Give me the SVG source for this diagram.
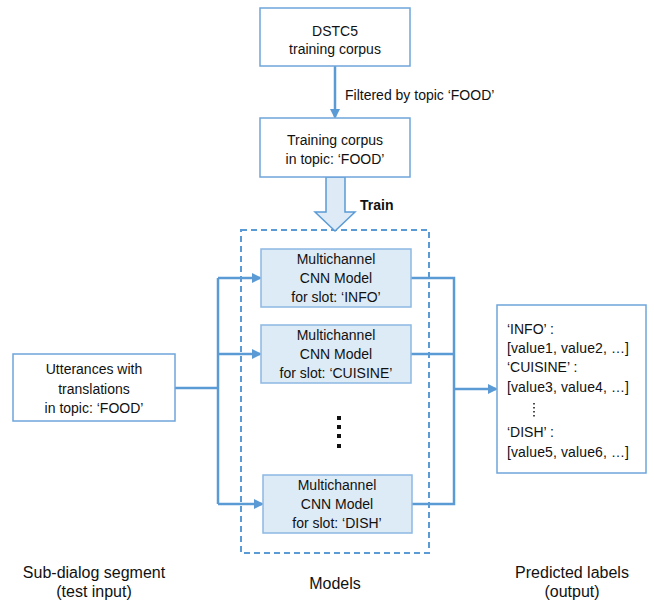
<svg xmlns="http://www.w3.org/2000/svg" width="654" height="604" viewBox="0 0 654 604">
<style>
text{font-family:"Liberation Sans",Arial,sans-serif;font-size:14px;fill:#111;}
.c{text-anchor:middle;}
.lbl{font-size:16px;}
.box{fill:#fff;stroke:#6FA5DA;stroke-width:1.5;}
.cnn{fill:#DDEBF7;stroke:#8CB8E2;stroke-width:1.5;}
.ln{fill:none;stroke:#5B9BD5;stroke-width:2.5;}
</style>
<defs>
<marker id="ah" markerWidth="10" markerHeight="10" refX="8" refY="5" orient="auto" markerUnits="userSpaceOnUse">
<path d="M0,0 L10,5 L0,10 Z" fill="#5B9BD5"/>
</marker>
</defs>
<rect x="241" y="230" width="188" height="323" fill="none" stroke="#5B9BD5" stroke-width="2" stroke-dasharray="6,4"/>
<g id="connectors">
<line class="ln" x1="335" y1="66" x2="335" y2="117" marker-end="url(#ah)"/>
<path d="M326,177 L345,177 L345,212 L355,212 L335,231 L315,212 L326,212 Z" fill="#DEEBF7" stroke="#5B9BD5" stroke-width="1.5"/>
<path class="ln" d="M175,388 L218,388"/>
<path class="ln" d="M218,278 L218,504"/>
<line class="ln" x1="218" y1="278" x2="260" y2="278" marker-end="url(#ah)"/>
<line class="ln" x1="218" y1="354" x2="260" y2="354" marker-end="url(#ah)"/>
<line class="ln" x1="218" y1="504" x2="262" y2="504" marker-end="url(#ah)"/>
<path class="ln" d="M411,278 L454,278 L454,504 L412,504"/>
<path class="ln" d="M411,354 L454,354"/>
<line class="ln" x1="454" y1="389" x2="496" y2="389" marker-end="url(#ah)"/>
<text x="345" y="100">Filtered by topic ‘FOOD’</text>
<text x="360" y="210" style="font-weight:bold">Train</text>
</g>
<g id="dstc5">
<rect class="box" x="260" y="8" width="150" height="58"/>
<text class="c" x="335" y="36">DSTC5</text>
<text class="c" x="335" y="54">training corpus</text>
</g>
<g id="food-corpus">
<rect class="box" x="260" y="118" width="150" height="59"/>
<text class="c" x="335" y="145">Training corpus</text>
<text class="c" x="335" y="164">in topic: ‘FOOD’</text>
</g>
<g id="utterances">
<rect class="box" x="13" y="354" width="162" height="67"/>
<text class="c" x="94" y="374">Utterances with</text>
<text class="c" x="94" y="394">translations</text>
<text class="c" x="94" y="413">in topic: ‘FOOD’</text>
</g>
<g id="cnn-info">
<rect class="cnn" x="261" y="249" width="150" height="58"/>
<text class="c" x="336" y="264">Multichannel</text>
<text class="c" x="336" y="283">CNN Model</text>
<text class="c" x="336" y="302">for slot: ‘INFO’</text>
</g>
<g id="cnn-cuisine">
<rect class="cnn" x="261" y="325" width="150" height="58"/>
<text class="c" x="336" y="340">Multichannel</text>
<text class="c" x="336" y="359">CNN Model</text>
<text class="c" x="336" y="378">for slot: ‘CUISINE’</text>
</g>
<g id="dots">
<rect x="337" y="416" width="4" height="4" fill="#111"/>
<rect x="337" y="425" width="4" height="4" fill="#111"/>
<rect x="337" y="434" width="4" height="4" fill="#111"/>
<rect x="337" y="444" width="4" height="4" fill="#111"/>
</g>
<g id="cnn-dish">
<rect class="cnn" x="263" y="475" width="149" height="58"/>
<text class="c" x="337" y="490">Multichannel</text>
<text class="c" x="337" y="509">CNN Model</text>
<text class="c" x="337" y="528">for slot: ‘DISH’</text>
</g>
<g id="output">
<rect class="box" x="497" y="305" width="149" height="168"/>
<text x="507" y="334">‘INFO’ :</text>
<text x="507" y="353" textLength="122">[value1, value2, …]</text>
<text x="507" y="372">‘CUISINE’ :</text>
<text x="507" y="392" textLength="122">[value3, value4, …]</text>
<line x1="534" y1="403" x2="534" y2="419" stroke="#111" stroke-width="1.5" stroke-dasharray="1.5,2.5"/>
<text x="507" y="437">‘DISH’ :</text>
<text x="507" y="457" textLength="122">[value5, value6, …]</text>
</g>
<g id="labels">
<text class="c lbl" x="94" y="578">Sub-dialog segment</text>
<text class="c lbl" x="94" y="597">(test input)</text>
<text class="c lbl" x="335" y="589">Models</text>
<text class="c lbl" x="572" y="578">Predicted labels</text>
<text class="c lbl" x="572" y="597">(output)</text>
</g>
</svg>
